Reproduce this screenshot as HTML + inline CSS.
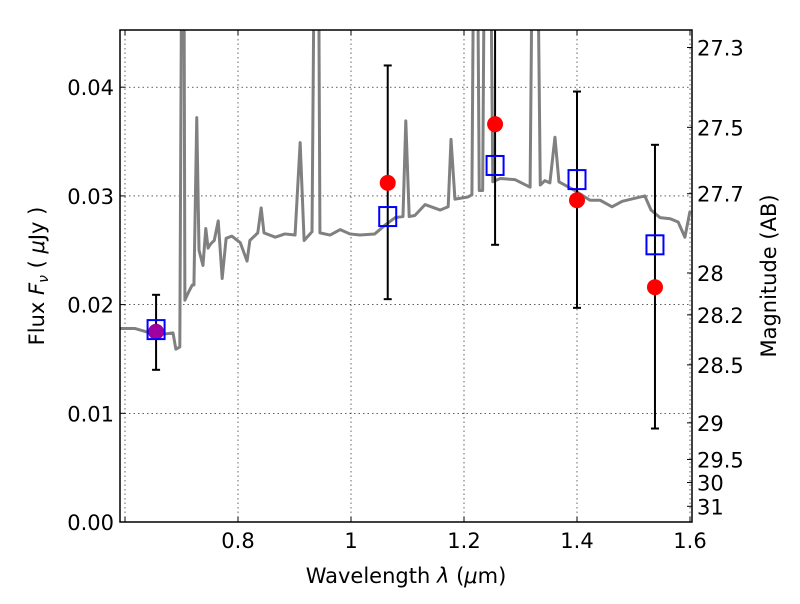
<!DOCTYPE html>
<html><head><meta charset="utf-8"><style>
body{margin:0;background:#fff;font-family:"DejaVu Sans","Liberation Sans",sans-serif}
svg text{font-family:"DejaVu Sans","Liberation Sans",sans-serif}
</style></head><body>
<svg id="c" width="800" height="600"></svg>
<script>
const specLam=[0.591,0.618,0.644,0.671,0.685,0.690,0.697,0.701,0.704,0.706,0.712,0.719,0.722,0.727,0.731,0.738,0.743,0.747,0.752,0.758,0.765,0.772,0.779,0.789,0.804,0.816,0.821,0.835,0.841,0.846,0.866,0.883,0.901,0.910,0.917,0.931,0.936,0.942,0.945,0.963,0.981,0.998,1.016,1.042,1.060,1.078,1.092,1.097,1.103,1.113,1.131,1.158,1.172,1.177,1.184,1.207,1.214,1.218,1.223,1.227,1.233,1.237,1.242,1.246,1.251,1.264,1.290,1.317,1.322,1.329,1.335,1.343,1.352,1.361,1.368,1.396,1.423,1.441,1.462,1.480,1.520,1.531,1.547,1.565,1.579,1.591,1.600];
const specFlux=[0.0178,0.0178,0.0174,0.0173,0.0174,0.0159,0.0161,0.06,0.06,0.0204,0.0211,0.0218,0.0218,0.0372,0.0250,0.0236,0.0270,0.0252,0.0256,0.0259,0.0277,0.0224,0.0261,0.0263,0.0257,0.0240,0.0259,0.0266,0.0289,0.0266,0.0262,0.0265,0.0264,0.0349,0.0259,0.0267,0.06,0.06,0.0266,0.0264,0.0269,0.0265,0.0264,0.0265,0.0273,0.0280,0.0281,0.0369,0.0281,0.0282,0.0292,0.0287,0.0290,0.0352,0.0297,0.0299,0.0301,0.06,0.06,0.0305,0.0305,0.06,0.06,0.06,0.0313,0.0316,0.0315,0.0308,0.06,0.06,0.0310,0.0314,0.0312,0.0354,0.0313,0.0305,0.0296,0.0296,0.0290,0.0295,0.0300,0.0287,0.0280,0.0279,0.0276,0.0262,0.0286];
const obsLam=[0.655,1.065,1.255,1.40,1.538];
const obsFlux=[0.0175,0.0312,0.0366,0.0296,0.0216];
const errLo=[0.0140,0.0205,0.0255,0.0197,0.0086];
const errHi=[0.0209,0.0420,0.0480,0.0396,0.0347];
const modFlux=[0.0177,0.0281,0.0328,0.0315,0.0255];
const xTicks=[0.6,0.8,1.0,1.2,1.4,1.6];
const xLabels=["","0.8","1","1.2","1.4","1.6"];
const yTicks=[0,0.01,0.02,0.03,0.04];
const yLabels=["0.00","0.01","0.02","0.03","0.04"];
const magTicks=[27.3,27.5,27.7,28,28.2,28.5,29,29.5,30,31];
const magLabels=["27.3","27.5","27.7","28","28.2","28.5","29","29.5","30","31"];

const L=120,R=692,T=30,B=522;
const X=v=>125+(v-0.6)*565;
const Y=v=>522-v*10870;
const svg=document.getElementById('c');
const NS='http://www.w3.org/2000/svg';
function el(t,a,p){const e=document.createElementNS(NS,t);for(const k in a)e.setAttribute(k,a[k]);(p||svg).appendChild(e);return e;}
const defs=el('defs',{});const cp=el('clipPath',{id:'clip'},defs);el('rect',{x:L,y:T,width:R-L,height:B-T},cp);
xTicks.forEach((t,i)=>{
 const g=el('line',{x1:X(t),x2:X(t),y1:T,y2:B,stroke:'#000','stroke-width':0.6,'stroke-dasharray':'1.5,3'});
 
 el('line',{x1:X(t),x2:X(t),y1:B,y2:B-5,stroke:'#000'});el('line',{x1:X(t),x2:X(t),y1:T,y2:T+5,stroke:'#000'});
 const tx=el('text',{x:X(t),y:B+26,'text-anchor':'middle','font-size':21});tx.textContent=xLabels[i];
 
});
yTicks.forEach((t,i)=>{
 const g=el('line',{x1:L,x2:R,y1:Y(t),y2:Y(t),stroke:'#000','stroke-width':0.6,'stroke-dasharray':'1.5,3'});
 
 el('line',{x1:L,x2:L+5,y1:Y(t),y2:Y(t),stroke:'#000'});
 const tx=el('text',{x:L-6,y:Y(t)+8,'text-anchor':'end','font-size':21});tx.textContent=yLabels[i];
 
});
magTicks.forEach((m,i)=>{
 const f=Math.pow(10,(23.9-m)/2.5);const y=Y(f);
 el('line',{x1:R,x2:R-5,y1:y,y2:y,stroke:'#000'});
 const tx=el('text',{x:R+5,y:y+8,'font-size':21});tx.textContent=magLabels[i];
 
});
const pts=specLam.map((l,i)=>X(l)+','+Y(specFlux[i])).join(' ');
const sp=el('polyline',{points:pts,fill:'none',stroke:'#808080','stroke-width':3,'clip-path':'url(#clip)','stroke-linejoin':'round'});

obsLam.forEach((l,i)=>{
 const g=el('g',{'clip-path':'url(#clip)'});
 
 el('line',{x1:X(l),x2:X(l),y1:Y(errLo[i]),y2:Y(errHi[i]),stroke:'#000','stroke-width':2},g);
 el('line',{x1:X(l)-4,x2:X(l)+4,y1:Y(errLo[i]),y2:Y(errLo[i]),stroke:'#000','stroke-width':2},g);
 el('line',{x1:X(l)-4,x2:X(l)+4,y1:Y(errHi[i]),y2:Y(errHi[i]),stroke:'#000','stroke-width':2},g);
});
obsLam.forEach((l,i)=>{
 const c=el('circle',{cx:X(l),cy:Y(obsFlux[i]),r:8,fill:i==0?'#a000a0':'#ff0000'});
 
 const s=el('rect',{x:X(l)-8.5,y:Y(modFlux[i])-9.5,width:17,height:19,fill:'none',stroke:'#0000ff','stroke-width':2});
 
});
const fr=el('rect',{x:L,y:T,width:R-L,height:B-T,fill:'none',stroke:'#000','stroke-width':1.5});

let t=el('text',{x:406,y:583,'text-anchor':'middle','font-size':21});
t.setAttribute('xml:space','preserve');
t.innerHTML='Wavelength  <tspan font-style="italic">λ</tspan> (<tspan font-style="italic">μ</tspan>m)';

t=el('text',{x:0,y:0,'text-anchor':'middle','font-size':21,transform:'translate(44,276) rotate(-90)'});
t.setAttribute('xml:space','preserve');
t.innerHTML='Flux  <tspan font-style="italic">F</tspan><tspan font-size="14" dy="4" font-style="italic">ν</tspan><tspan dy="-4">  ( </tspan><tspan font-style="italic">μ</tspan>Jy )';

t=el('text',{x:0,y:0,'text-anchor':'middle','font-size':21,transform:'translate(776,276) rotate(-90)'});
t.textContent='Magnitude (AB)';

</script>
</body></html>
